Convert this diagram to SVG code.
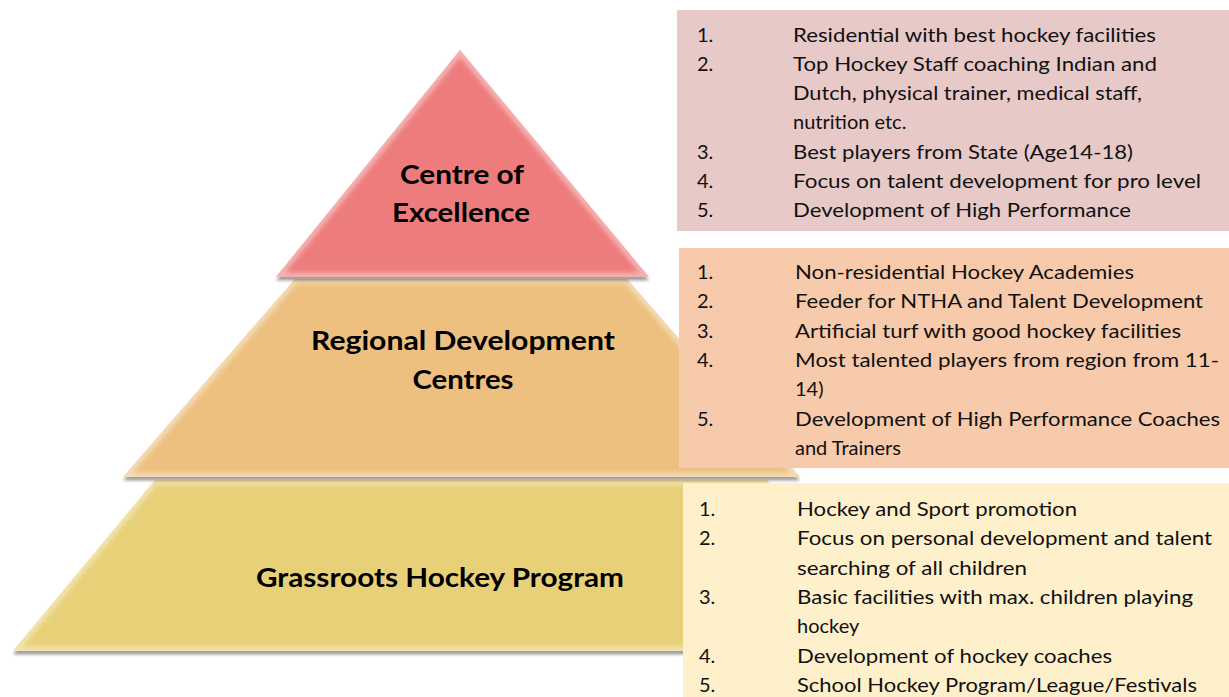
<svg xmlns="http://www.w3.org/2000/svg" width="1229" height="697" viewBox="0 0 1229 697">
  <defs>
    <style>
      .lvl { font-family: Lato, "Liberation Sans", sans-serif; font-weight: 700; font-size: 27px; fill: #000; text-anchor: middle; }
      .item { font-family: Lato, "Liberation Sans", sans-serif; font-size: 20px; fill: #111; }
      .bevel { fill: none; stroke: #fff; stroke-width: 9; stroke-opacity: 0.4; }
    </style>
    <filter id="shadow" x="-10%" y="-10%" width="120%" height="130%">
      <feDropShadow dx="0" dy="3.5" stdDeviation="1.8" flood-color="#000" flood-opacity="0.38"/>
    </filter>
    <filter id="soft" x="-5%" y="-5%" width="110%" height="110%">
      <feGaussianBlur stdDeviation="2.2"/>
    </filter>
    <clipPath id="clipTop"><polygon points="460,50 649,277 276,277"/></clipPath>
    <clipPath id="clipMid"><polygon points="295,279 627,279 800,477 123,477"/></clipPath>
    <clipPath id="clipBase"><polygon points="155,480 767,480 909,651 13,651"/></clipPath>
  </defs>

  <!-- base level -->
  <g id="level-grassroots">
    <polygon points="155,480 767,480 909,651 13,651" fill="#E8D079" filter="url(#shadow)"/>
    <g clip-path="url(#clipBase)">
      <polygon class="bevel" points="155,480 767,480 909,651 13,651" stroke="#FFF0A0" filter="url(#soft)"/>
    </g>
    <text class="lvl" x="440" y="587" textLength="368" lengthAdjust="spacingAndGlyphs">Grassroots Hockey Program</text>
  </g>

  <!-- middle level -->
  <g id="level-regional">
    <polygon points="295,279 627,279 800,477 123,477" fill="#EDC07F" filter="url(#shadow)"/>
    <g clip-path="url(#clipMid)">
      <polygon class="bevel" points="295,279 627,279 800,477 123,477" stroke="#FFE2A8" filter="url(#soft)"/>
    </g>
    <text class="lvl" x="463" y="350" textLength="304" lengthAdjust="spacingAndGlyphs">Regional Development</text>
    <text class="lvl" x="463" y="389" textLength="101" lengthAdjust="spacingAndGlyphs">Centres</text>
  </g>

  <!-- top level -->
  <g id="level-excellence">
    <polygon points="460,50 649,277 276,277" fill="#EE7B7B" filter="url(#shadow)"/>
    <g clip-path="url(#clipTop)">
      <polygon class="bevel" points="460,50 649,277 276,277" stroke="#FFB0B0" filter="url(#soft)"/>
    </g>
    <text class="lvl" x="462" y="184" textLength="124" lengthAdjust="spacingAndGlyphs">Centre of</text>
    <text class="lvl" x="461" y="222" textLength="138" lengthAdjust="spacingAndGlyphs">Excellence</text>
  </g>

  <!-- description panels -->
  <g id="panel-excellence">
    <rect x="677" y="10" width="552" height="221" fill="#E7C9C8"/>
    <text class="item" x="697" y="42">1.</text>
    <text class="item" x="793" y="42" textLength="363" lengthAdjust="spacingAndGlyphs">Residential with best hockey facilities</text>
    <text class="item" x="697" y="71">2.</text>
    <text class="item" x="793" y="71" textLength="364" lengthAdjust="spacingAndGlyphs">Top Hockey Staff coaching Indian and</text>
    <text class="item" x="793" y="100" textLength="349" lengthAdjust="spacingAndGlyphs">Dutch, physical trainer, medical staff,</text>
    <text class="item" x="793" y="129">nutrition etc.</text>
    <text class="item" x="697" y="159">3.</text>
    <text class="item" x="793" y="159" textLength="340" lengthAdjust="spacingAndGlyphs">Best players from State (Age14-18)</text>
    <text class="item" x="697" y="188">4.</text>
    <text class="item" x="793" y="188" textLength="408" lengthAdjust="spacingAndGlyphs">Focus on talent development for pro level</text>
    <text class="item" x="697" y="217">5.</text>
    <text class="item" x="793" y="217" textLength="338" lengthAdjust="spacingAndGlyphs">Development of High Performance</text>
  </g>

  <g id="panel-regional">
    <rect x="679" y="248" width="550" height="220" fill="#F7CAAC"/>
    <text class="item" x="697" y="279">1.</text>
    <text class="item" x="795" y="279" textLength="339" lengthAdjust="spacingAndGlyphs">Non-residential Hockey Academies</text>
    <text class="item" x="697" y="308">2.</text>
    <text class="item" x="795" y="308" textLength="408" lengthAdjust="spacingAndGlyphs">Feeder for NTHA and Talent Development</text>
    <text class="item" x="697" y="338">3.</text>
    <text class="item" x="795" y="338" textLength="386" lengthAdjust="spacingAndGlyphs">Artificial turf with good hockey facilities</text>
    <text class="item" x="697" y="367">4.</text>
    <text class="item" x="795" y="367" textLength="424" lengthAdjust="spacingAndGlyphs">Most talented players from region from 11-</text>
    <text class="item" x="795" y="396">14)</text>
    <text class="item" x="697" y="426">5.</text>
    <text class="item" x="795" y="426" textLength="425" lengthAdjust="spacingAndGlyphs">Development of High Performance Coaches</text>
    <text class="item" x="795" y="455">and Trainers</text>
  </g>

  <g id="panel-grassroots">
    <rect x="683" y="483" width="546" height="214" fill="#FFF0CC"/>
    <text class="item" x="699" y="516">1.</text>
    <text class="item" x="797" y="516" textLength="280" lengthAdjust="spacingAndGlyphs">Hockey and Sport promotion</text>
    <text class="item" x="699" y="545">2.</text>
    <text class="item" x="797" y="545" textLength="415" lengthAdjust="spacingAndGlyphs">Focus on personal development and talent</text>
    <text class="item" x="797" y="575" textLength="230" lengthAdjust="spacingAndGlyphs">searching of all children</text>
    <text class="item" x="699" y="604">3.</text>
    <text class="item" x="797" y="604" textLength="396" lengthAdjust="spacingAndGlyphs">Basic facilities with max. children playing</text>
    <text class="item" x="797" y="633">hockey</text>
    <text class="item" x="699" y="663">4.</text>
    <text class="item" x="797" y="663" textLength="315" lengthAdjust="spacingAndGlyphs">Development of hockey coaches</text>
    <text class="item" x="699" y="692">5.</text>
    <text class="item" x="797" y="692" textLength="400" lengthAdjust="spacingAndGlyphs">School Hockey Program/League/Festivals</text>
  </g>
</svg>
